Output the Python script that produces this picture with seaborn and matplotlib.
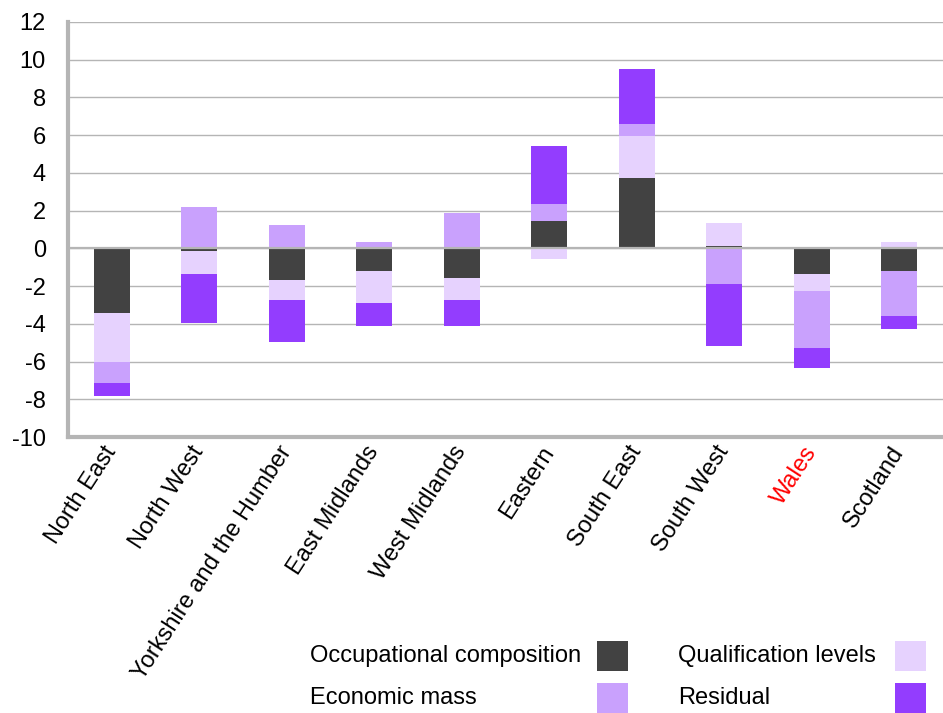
import matplotlib
matplotlib.use("Agg")
import matplotlib.pyplot as plt
import numpy as np
import seaborn as sns
from matplotlib.patches import Rectangle

regions = ["North East", "North West", "Yorkshire and the Humber", "East Midlands",
           "West Midlands", "Eastern", "South East", "South West", "Wales", "Scotland"]
occupational = [-3.4, -0.15, -1.7, -1.2, -1.55, 1.47, 3.74, 0.14, -1.34, -1.18]
qualification = [-2.6, -1.23, -1.06, -1.72, -1.2, -0.55, 2.22, 1.22, -0.9, 0.35]
economic = [-1.15, 2.2, 1.22, 0.35, 1.89, 0.9, 0.64, -1.87, -3.06, -2.42]
residual = [-0.7, -2.6, -2.22, -1.22, -1.36, 3.07, 2.9, -3.28, -1.06, -0.69]

series = [
    ("Occupational composition", occupational, "#424242"),
    ("Qualification levels", qualification, "#E6D2FE"),
    ("Economic mass", economic, "#C9A1FD"),
    ("Residual", residual, "#933DFE"),
]

sns.set_style("white")
plt.rcParams["font.family"] = ["Liberation Sans", "DejaVu Sans"]
plt.rcParams["axes.unicode_minus"] = False
plt.rcParams["text.color"] = "black"
plt.rcParams["xtick.color"] = "black"
plt.rcParams["ytick.color"] = "black"
grid_col = "#B5B5B5"
fs = 17

fig = plt.figure(figsize=(9.43, 7.13), dpi=100)
ax = fig.add_axes([68 / 943, 1 - 437 / 713, 1 - 68 / 943, (437 - 22) / 713])

# stack positives and negatives separately
pos_base = np.zeros(len(regions))
neg_base = np.zeros(len(regions))
for name, vals, col in series:
    vals = np.array(vals)
    bottom = np.where(vals >= 0, pos_base, neg_base)
    sns.barplot(x=regions, y=vals, bottom=bottom, color=col, saturation=1,
                width=0.41, errorbar=None, linewidth=0, ax=ax, zorder=2)
    pos_base = pos_base + np.clip(vals, 0, None)
    neg_base = neg_base + np.clip(vals, None, 0)

ax.set_ylim(-10, 12)
ax.set_xlim(-0.5, 9.5)
ax.set_yticks(range(-10, 13, 2))
ax.yaxis.grid(True, color=grid_col, linewidth=1.0, zorder=0)
ax.set_axisbelow(True)
ax.axhline(0, color=grid_col, linewidth=1.6, zorder=3)

for side in ("top", "right"):
    ax.spines[side].set_visible(False)
for side in ("left", "bottom"):
    ax.spines[side].set_color(grid_col)
    ax.spines[side].set_linewidth(3)

ax.tick_params(axis="y", length=0, pad=16, labelsize=fs)
ax.tick_params(axis="x", length=0, pad=8, labelsize=fs)
plt.setp(ax.get_xticklabels(), rotation=57, ha="right", va="center",
         rotation_mode="anchor")
for lbl in ax.get_xticklabels():
    if lbl.get_text() == "Wales":
        lbl.set_color("red")
ax.set_xlabel("")
ax.set_ylabel("")

# legend laid out like the original: label on the left, swatch on the right
legend_rows = [
    [(series[0][0], series[0][2], 310, 597, 656), (series[1][0], series[1][2], 678, 895, 656)],
    [(series[2][0], series[2][2], 310, 597, 698), (series[3][0], series[3][2], 678, 895, 698)],
]
W, H = 943, 713
for row in legend_rows:
    for text, col, tx, sx, cy in row:
        fig.text(tx / W, 1 - cy / H, text, fontsize=fs, va="center", ha="left")
        fig.add_artist(Rectangle((sx / W, 1 - (cy + 15) / H), 31 / W, 30 / H,
                                 transform=fig.transFigure, color=col, lw=0))

fig.savefig("out.png", dpi=100)
